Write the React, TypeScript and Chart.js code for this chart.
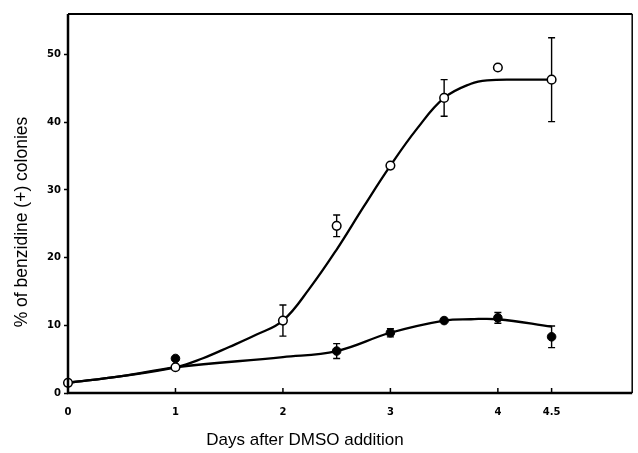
import React, { useEffect, useRef } from "react";
import { Chart, registerables } from "chart.js";

Chart.register(...registerables);

// Measured points (open circles = DMSO-treated, filled circles = control)
const openDays = [0, 1, 2, 2.5, 3, 3.5, 4, 4.5];
const openMean = [1.5, 3.8, 10.7, 24.7, 33.6, 43.6, 48.1, 46.3];
const openErr = [0, 0, 2.3, 1.6, 0, 2.7, 0, 6.2];

const filledDays = [1, 2.5, 3, 3.5, 4, 4.5];
const filledMean = [5.1, 6.2, 8.9, 10.7, 11.1, 8.3];
const filledErr = [0, 1.1, 0.6, 0, 0.8, 1.6];

// Fitted curves
const openCurveDays = [0, 0.5, 1, 1.25, 1.5, 1.75, 2, 2.25, 2.5, 2.75, 3, 3.25, 3.5, 3.75, 3.9, 4.2, 4.5];
const openCurveValues = [1.5, 2.5, 3.8, 5.1, 6.8, 8.6, 10.7, 15.5, 21.2, 27.5, 33.6, 39.1, 43.6, 45.7, 46.2, 46.3, 46.3];

const filledCurveDays = [0, 0.5, 1, 2, 2.5, 3, 3.5, 3.75, 4, 4.5];
const filledCurveValues = [1.5, 2.5, 3.8, 5.3, 6.2, 8.9, 10.7, 10.9, 10.9, 9.8];

const xTickValues = [0, 1, 2, 3, 4, 4.5];
const yTickValues = [0, 10, 20, 30, 40, 50];

const xTitle = "Days after DMSO addition";
const yTitle = "% of benzidine (+) colonies";

const toXY = (xs: number[], ys: number[]) => xs.map((x, i) => ({ x, y: ys[i] }));

const framePlugin = {
  id: "frameAndBars",
  beforeDatasetsDraw(chart: any) {
    const { ctx, scales } = chart;
    const x = scales.x;
    const y = scales.y;
    ctx.save();
    ctx.strokeStyle = "#000";
    ctx.lineWidth = 1.4;
    const draw = (xs: number[], ms: number[], es: number[]) => {
      xs.forEach((d, i) => {
        if (!es[i]) return;
        const px = x.getPixelForValue(d);
        const t = y.getPixelForValue(ms[i] + es[i]);
        const b = y.getPixelForValue(ms[i] - es[i]);
        ctx.beginPath();
        ctx.moveTo(px, t);
        ctx.lineTo(px, b);
        ctx.moveTo(px - 3.5, t);
        ctx.lineTo(px + 3.5, t);
        ctx.moveTo(px - 3.5, b);
        ctx.lineTo(px + 3.5, b);
        ctx.stroke();
      });
    };
    draw(openDays, openMean, openErr);
    draw(filledDays, filledMean, filledErr);
    ctx.restore();
  },
  afterDraw(chart: any) {
    const { ctx, chartArea, scales } = chart;
    const { left, right, top, bottom } = chartArea;
    ctx.save();
    ctx.strokeStyle = "#000";
    // frame
    ctx.lineWidth = 2.5;
    ctx.beginPath();
    ctx.moveTo(left, top);
    ctx.lineTo(left, bottom);
    ctx.lineTo(right, bottom);
    ctx.stroke();
    ctx.lineWidth = 2;
    ctx.beginPath();
    ctx.moveTo(left, top);
    ctx.lineTo(right, top);
    ctx.stroke();
    ctx.lineWidth = 1.5;
    ctx.beginPath();
    ctx.moveTo(right, top);
    ctx.lineTo(right, bottom);
    ctx.stroke();
    // inward x ticks
    ctx.lineWidth = 1.5;
    xTickValues.forEach((v) => {
      if (v === 0) return;
      const px = scales.x.getPixelForValue(v);
      ctx.beginPath();
      ctx.moveTo(px, bottom);
      ctx.lineTo(px, bottom - 5);
      ctx.stroke();
    });
    // titles
    ctx.fillStyle = "#000";
    ctx.font = '17px "Liberation Sans", Arial, sans-serif';
    ctx.textAlign = "center";
    ctx.textBaseline = "middle";
    ctx.fillText(xTitle, left + 237, 440);
    ctx.translate(22, 222);
    ctx.rotate(-Math.PI / 2);
    ctx.font = '17.5px "Liberation Sans", Arial, sans-serif';
    ctx.fillText(yTitle, 0, 0);
    ctx.restore();
  },
};

export default function App() {
  const ref = useRef<HTMLCanvasElement | null>(null);

  useEffect(() => {
    if (!ref.current) return;
    const tickFont = { family: '"DejaVu Sans", sans-serif', size: 10, weight: "bold" as const };
    const chart = new Chart(ref.current, {
      type: "line",
      data: {
        datasets: [
          {
            label: "open",
            data: toXY(openDays, openMean),
            showLine: false,
            pointRadius: 4.3,
            pointBackgroundColor: "#fff",
            pointBorderColor: "#000",
            pointBorderWidth: 1.5,
            clip: false as any,
          },
          {
            label: "filled",
            data: toXY(filledDays, filledMean),
            showLine: false,
            pointRadius: 4.3,
            pointBackgroundColor: "#000",
            pointBorderColor: "#000",
            pointBorderWidth: 1,
            clip: false as any,
          },
          {
            label: "open fit",
            data: toXY(openCurveDays, openCurveValues),
            borderColor: "#000",
            borderWidth: 2.3,
            pointRadius: 0,
            tension: 0.4,
            fill: false,
          },
          {
            label: "filled fit",
            data: toXY(filledCurveDays, filledCurveValues),
            borderColor: "#000",
            borderWidth: 2.3,
            pointRadius: 0,
            tension: 0.4,
            fill: false,
          },
        ],
      },
      options: {
        animation: false,
        responsive: false,
        maintainAspectRatio: false,
        layout: { padding: { top: 14, right: 2, left: 0, bottom: 0 } },
        plugins: { legend: { display: false }, tooltip: { enabled: false } },
        scales: {
          x: {
            type: "linear",
            min: 0,
            max: 5.25,
            afterFit: (s: any) => {
              s.height = 60;
            },
            afterBuildTicks: (s: any) => {
              s.ticks = xTickValues.map((value) => ({ value }));
            },
            grid: { display: true, drawOnChartArea: false, drawTicks: false, color: "#000" },
            border: { display: false },
            ticks: {
              color: "#000",
              font: tickFont,
              padding: 13,
              autoSkip: false,
              maxRotation: 0,
              callback: (v: any) => String(v),
            },
          },
          y: {
            type: "linear",
            min: 0,
            max: 56,
            afterFit: (s: any) => {
              s.width = 68;
            },
            afterBuildTicks: (s: any) => {
              s.ticks = yTickValues.map((value) => ({ value }));
            },
            grid: {
              display: true,
              drawOnChartArea: false,
              drawTicks: true,
              tickLength: 4,
              tickWidth: 1.5,
              color: "#000",
            },
            border: { display: false },
            ticks: {
              color: "#000",
              font: tickFont,
              padding: 3,
              callback: (v: any) => String(v),
            },
          },
        },
      },
      plugins: [framePlugin],
    });
    return () => chart.destroy();
  }, []);

  return (
    <div style={{ position: "fixed", left: 0, top: 0, width: 638, height: 453, background: "#fff" }}>
      <canvas ref={ref} width={638} height={453} style={{ width: 638, height: 453, display: "block" }} />
    </div>
  );
}
